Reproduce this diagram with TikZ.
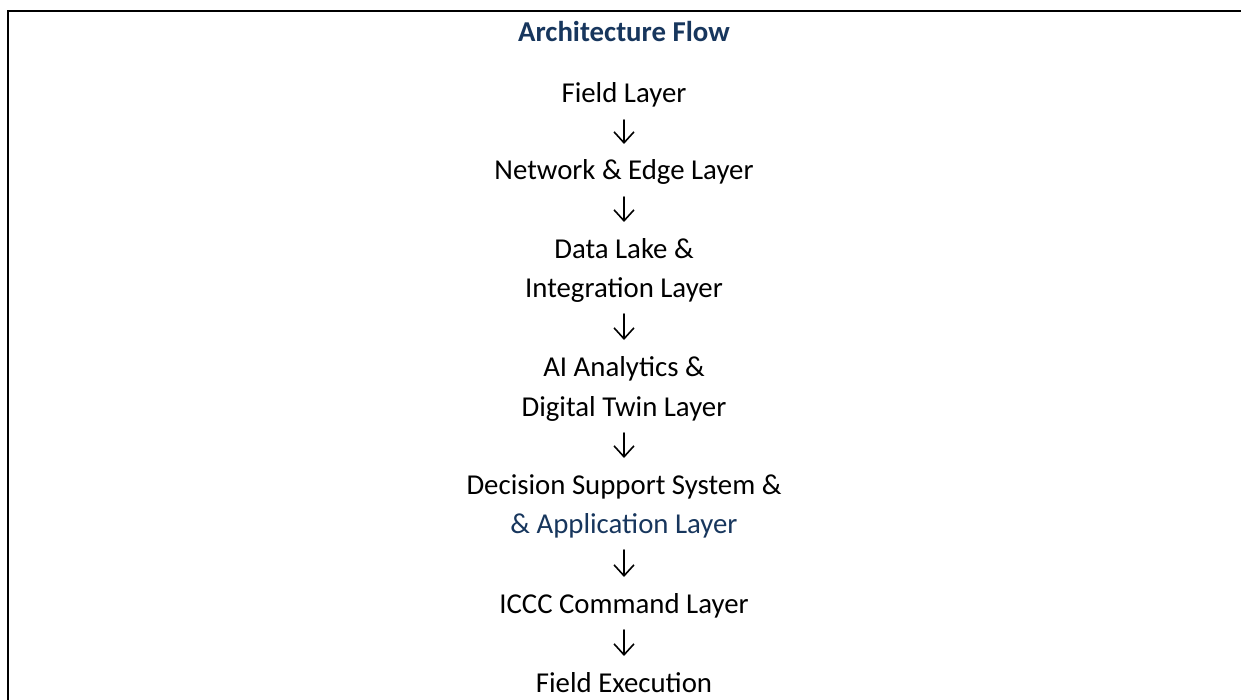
\documentclass[tikz,border=0pt]{standalone}
\usepackage{fontspec}
\setmainfont{Carlito}
\usepackage{xcolor}
\usetikzlibrary{arrows.meta}
\definecolor{navy}{HTML}{17365D}

\begin{document}
\begin{tikzpicture}[x=0.5pt, y=-0.5pt,
  layer/.style={anchor=base, inner sep=0pt, font=\fontsize{14.4pt}{17pt}\selectfont},
  flow/.style={line width=0.8pt, line cap=round, -{Straight Barb[length=5.5pt,width=10pt]},
    shorten <=8.5pt, shorten >=18pt}]
  \useasboundingbox (0,0) rectangle (1241,700);

  % Frame (open table cell)
  \draw[line width=1.2pt] (7.7,700) -- (7.7,11) -- (1241,11);

  % Title
  \node[layer, font=\fontsize{14.4pt}{17pt}\selectfont\bfseries, text=navy] (title) at (624,42) {Architecture Flow};

  % Layers
  \node[layer] (field) at (624,103) {Field Layer};
  \node[layer] (network) at (624,180) {Network \& Edge Layer};
  \node[layer] (lake) at (624,258) {Data Lake \&};
  \node[layer] (integ) at (624,297) {Integration Layer};
  \node[layer] (ai) at (624,376) {AI Analytics \&};
  \node[layer] (twin) at (624,416) {Digital Twin Layer};
  \node[layer] (dss) at (624,494) {Decision Support System \&};
  \node[layer, text=navy] (app) at (624,533) {\& Application Layer};
  \node[layer] (iccc) at (624,613) {ICCC Command Layer};
  \node[layer] (exec) at (624,692) {Field Execution};

  % Arrows
  \draw[flow] (field.base) -- (network.base);
  \draw[flow] (network.base) -- (lake.base);
  \draw[flow] (integ.base) -- (ai.base);
  \draw[flow] (twin.base) -- (dss.base);
  \draw[flow] (app.base) -- (iccc.base);
  \draw[flow] (iccc.base) -- (exec.base);
\end{tikzpicture}
\end{document}
